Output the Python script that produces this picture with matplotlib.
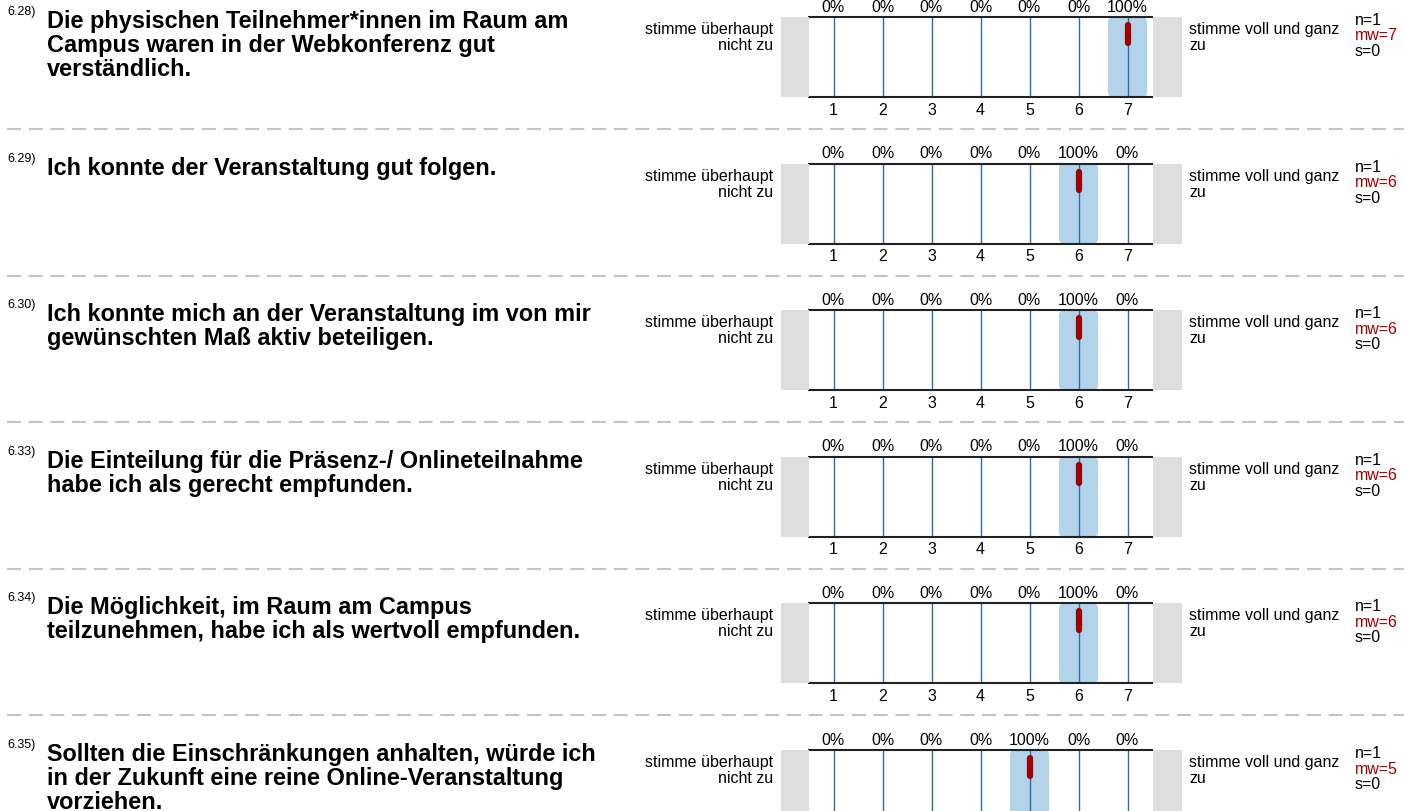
import matplotlib.pyplot as plt
from matplotlib.patches import FancyBboxPatch, Rectangle
from matplotlib.lines import Line2D

plt.rcParams['font.family'] = ['Liberation Sans', 'DejaVu Sans']

numbers = ["6.28)", "6.29)", "6.30)", "6.33)", "6.34)", "6.35)"]
questions = [
    "Die physischen Teilnehmer*innen im Raum am\nCampus waren in der Webkonferenz gut\nverständlich.",
    "Ich konnte der Veranstaltung gut folgen.",
    "Ich konnte mich an der Veranstaltung im von mir\ngewünschten Maß aktiv beteiligen.",
    "Die Einteilung für die Präsenz-/ Onlineteilnahme\nhabe ich als gerecht empfunden.",
    "Die Möglichkeit, im Raum am Campus\nteilzunehmen, habe ich als wertvoll empfunden.",
    "Sollten die Einschränkungen anhalten, würde ich\nin der Zukunft eine reine Online-Veranstaltung\nvorziehen.",
]
scale = [1, 2, 3, 4, 5, 6, 7]
percents = [
    [0, 0, 0, 0, 0, 0, 100],
    [0, 0, 0, 0, 0, 100, 0],
    [0, 0, 0, 0, 0, 100, 0],
    [0, 0, 0, 0, 0, 100, 0],
    [0, 0, 0, 0, 0, 100, 0],
    [0, 0, 0, 0, 100, 0, 0],
]
n_vals = [1, 1, 1, 1, 1, 1]
means = [7, 6, 6, 6, 6, 5]
sds = [0, 0, 0, 0, 0, 0]
left_label = "stimme überhaupt\nnicht zu"
right_label = "stimme voll und ganz\nzu"

W, H = 1404, 811
fig = plt.figure(figsize=(W / 100, H / 100), dpi=100)


def fx(px):
    return px / W


def fy(py):
    return 1 - py / H


blue_line = "#2b6cb0"
blue_fill = "#b3d3ea"
gray_box = "#dedede"
red = "#a00000"

row_top0 = 17
pitch = 146.6
box_h = 80
ax_left, ax_right = 809, 1152

for i in range(len(questions)):
    top = row_top0 + i * pitch
    bottom = top + box_h

    # question number and text
    fig.text(fx(7), fy(top - 11), numbers[i], fontsize=9, va="top", ha="left")
    fig.text(fx(47), fy(top - 7), questions[i], fontsize=16.9, fontweight="bold",
             va="top", ha="left", linespacing=1.06)

    # gray end boxes
    fig.add_artist(Rectangle((fx(781), fy(bottom)), fx(809) - fx(781), fy(top) - fy(bottom),
                             transform=fig.transFigure, color=gray_box, lw=0))
    fig.add_artist(Rectangle((fx(1153), fy(bottom)), fx(1182) - fx(1153), fy(top) - fy(bottom),
                             transform=fig.transFigure, color=gray_box, lw=0))

    ax = fig.add_axes([fx(ax_left), fy(bottom), fx(ax_right) - fx(ax_left), fy(top) - fy(bottom)])
    ax.set_xlim(0.5, 7.5)
    ax.set_ylim(0, 1)
    for side in ["left", "right"]:
        ax.spines[side].set_visible(False)
    for side in ["top", "bottom"]:
        ax.spines[side].set_linewidth(1.5)
        ax.spines[side].set_color("#222222")
    ax.set_yticks([])
    ax.set_xticks(scale)
    ax.tick_params(axis="x", length=0, labelsize=11.5, pad=4)
    if bottom + 20 > H:
        ax.set_xticklabels([])

    # answer distribution
    for x, p in zip(scale, percents[i]):
        if p > 0:
            ax.add_patch(FancyBboxPatch((x - 0.4, 0), 0.8, p / 100,
                                        boxstyle="round,pad=0,rounding_size=0.1",
                                        mutation_aspect=0.7,
                                        facecolor=blue_fill, edgecolor="none", zorder=1))
        ax.axvline(x, color=blue_line, lw=1, zorder=2)
        ax.text(x, 1.03, f"{p}%", ha="center", va="bottom", fontsize=11.5,
                transform=ax.get_xaxis_transform(), clip_on=False)

    # mean marker
    ax.plot([means[i], means[i]], [0.9, 0.67], color=red, lw=4.5,
            solid_capstyle="round", zorder=3)

    fig.text(fx(773), fy(top + 5), left_label, fontsize=11.5, ha="right", va="top",
             multialignment="right", linespacing=1.09)
    fig.text(fx(1189), fy(top + 5), right_label, fontsize=11.5, ha="left", va="top",
             linespacing=1.09)
    fig.text(fx(1355), fy(top + 3.5), f"n={n_vals[i]}", fontsize=11.5, ha="left", va="center")
    fig.text(fx(1355), fy(top + 19), f"mw={means[i]}", fontsize=11.5, ha="left", va="center",
             color=red)
    fig.text(fx(1355), fy(top + 34.5), f"s={sds[i]}", fontsize=11.5, ha="left", va="center")

    # dashed separator
    if i < len(questions) - 1:
        sep = top + 112
        fig.add_artist(Line2D([fx(7), fx(1404)], [fy(sep), fy(sep)], transform=fig.transFigure,
                              color="#c4c4c4", lw=1.5, dashes=(6.7, 3.7)))

fig.savefig("out.png", dpi=100)
